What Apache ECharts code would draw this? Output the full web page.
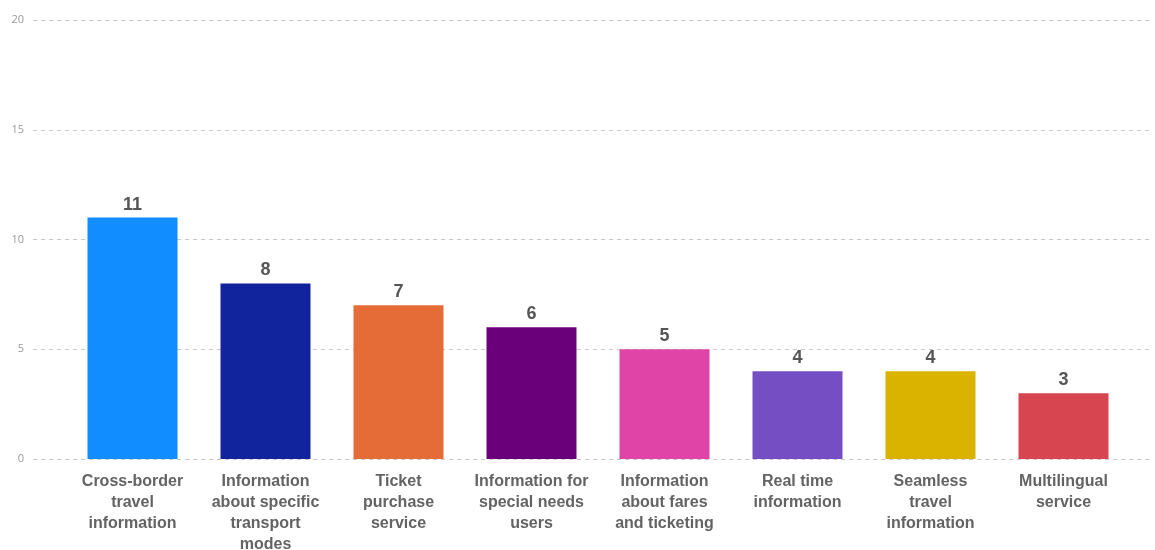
<!DOCTYPE html>
<html>
<head>
<meta charset="utf-8">
<script src="https://cdn.jsdelivr.net/npm/echarts@6/dist/echarts.min.js"></script>
<style>
  html, body { margin: 0; padding: 0; background: #fff; }
  #chart { width: 1155px; height: 550px; }
</style>
</head>
<body>
<div id="chart"></div>
<script>
// Survey topics and their counts
const categories = [
  'Cross-border\ntravel\ninformation',
  'Information\nabout specific\ntransport\nmodes',
  'Ticket\npurchase\nservice',
  'Information for\nspecial needs\nusers',
  'Information\nabout fares\nand ticketing',
  'Real time\ninformation',
  'Seamless\ntravel\ninformation',
  'Multilingual\nservice'
];
const counts = [11, 8, 7, 6, 5, 4, 4, 3];
const barColors = ['#118DFF', '#12239E', '#E66C37', '#6B007B', '#E044A7', '#744EC2', '#D9B300', '#D64550'];
const yTicks = [0, 5, 10, 15, 20];

const chart = echarts.init(document.getElementById('chart'));
chart.setOption({
  animation: false,
  grid: [
    // full-width grid carrying the value axis and dashed gridlines
    { left: 33, right: 5, top: 20, bottom: 91, outerBoundsMode: 'none', containLabel: false },
    // grid for the bars
    { left: 66, right: 25, top: 20, bottom: 91, outerBoundsMode: 'none', containLabel: false }
  ],
  xAxis: [
    { gridIndex: 0, type: 'value', show: false, min: 0, max: 1 },
    {
      gridIndex: 1,
      type: 'category',
      data: categories,
      axisLine: { show: false },
      axisTick: { show: false },
      axisLabel: {
        interval: 0,
        margin: 12,
        color: '#636363',
        fontFamily: 'Liberation Sans, Arial, sans-serif',
        fontWeight: 'bold',
        fontSize: 16,
        lineHeight: 21,
        align: 'center',
        verticalAlign: 'top'
      }
    }
  ],
  yAxis: [
    {
      gridIndex: 0,
      type: 'value',
      min: yTicks[0],
      max: yTicks[yTicks.length - 1],
      interval: 5,
      axisLine: { show: false },
      axisTick: { show: false },
      axisLabel: {
        color: '#999',
        fontFamily: 'Open Sans, sans-serif',
        fontSize: 11,
        margin: 9
      },
      splitLine: { lineStyle: { color: '#c8c8c8', type: [4, 4], width: 1 } }
    },
    {
      gridIndex: 1,
      type: 'value',
      min: yTicks[0],
      max: yTicks[yTicks.length - 1],
      interval: 5,
      show: false,
      splitLine: { show: false }
    }
  ],
  series: [{
    type: 'bar',
    xAxisIndex: 1,
    yAxisIndex: 1,
    barWidth: 90,
    data: counts.map((v, i) => ({ value: v, itemStyle: { color: barColors[i] } })),
    label: {
      show: true,
      position: 'top',
      distance: 4,
      color: '#555',
      fontFamily: 'Liberation Sans, Arial, sans-serif',
      fontWeight: 'bold',
      fontSize: 18
    }
  }]
});
</script>
</body>
</html>
